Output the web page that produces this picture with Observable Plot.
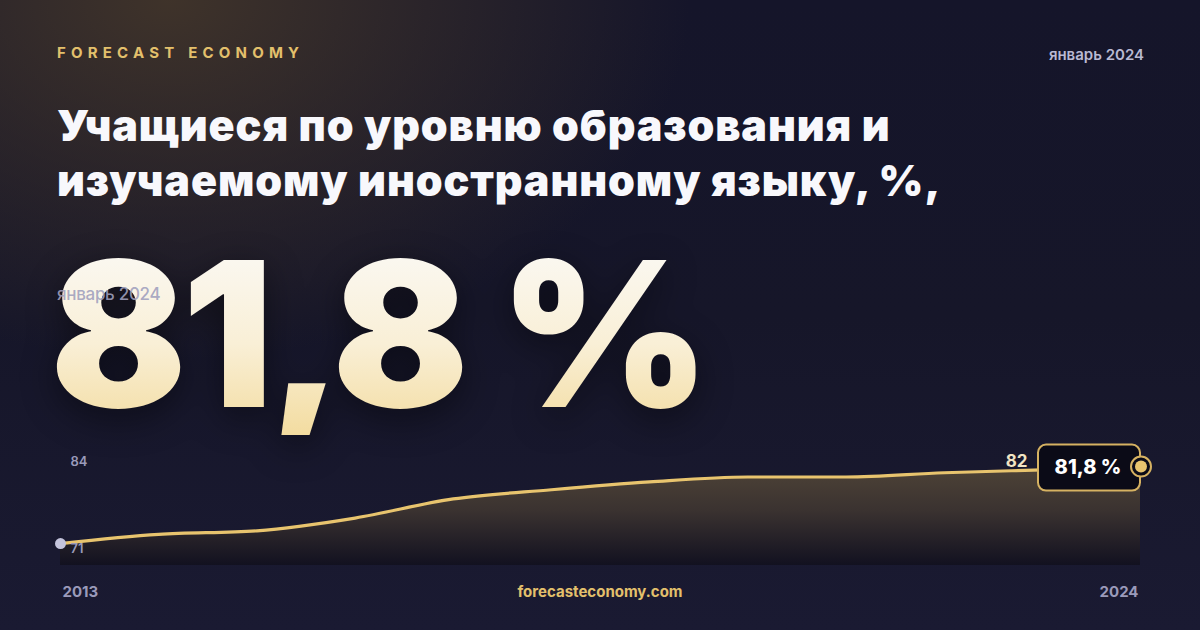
<!DOCTYPE html>
<html><head><meta charset="utf-8">
<script src="https://cdn.jsdelivr.net/npm/d3@7"></script>
<script src="https://cdn.jsdelivr.net/npm/@observablehq/plot@0.6"></script>
<style>
html,body{margin:0;padding:0;}
body{width:1200px;height:630px;overflow:hidden;font-family:Inter,"Noto Sans",sans-serif;}
#card{position:relative;width:1200px;height:630px;overflow:hidden;
 background:
  radial-gradient(ellipse 520px 360px at 170px 0px, rgba(70,56,42,0.85), rgba(70,56,42,0) 100%),
  linear-gradient(180deg,#15152a 0%,#161629 50%,#1a1a32 100%);}
.brand{position:absolute;left:57px;top:43px;font-size:15px;font-weight:700;letter-spacing:5.2px;color:#e3c06c;}
.date{position:absolute;right:56px;top:45px;font-size:15px;font-weight:600;color:#b9b9d2;}
.title{position:absolute;left:57px;top:98px;font-size:43px;line-height:55px;font-weight:900;color:#f8f8fc;letter-spacing:0.9px;}
.big{position:absolute;left:50px;top:233px;font-size:202px;line-height:202px;height:202px;font-weight:900;letter-spacing:-5px;
 background:linear-gradient(180deg,#fbfaf7 0%,#f9efd6 55%,#f3dca0 100%);-webkit-background-clip:text;background-clip:text;color:transparent;
 filter:drop-shadow(0 10px 18px rgba(0,0,0,0.45));}
.sub{position:absolute;left:57px;top:284px;font-size:17px;font-weight:500;color:rgba(160,160,190,0.9);letter-spacing:-0.3px;}
.site{position:absolute;left:0;width:1200px;top:582px;text-align:center;font-size:15px;font-weight:700;color:#e3c06c;}
#chart{position:absolute;left:0;top:430px;}
</style></head>
<body>
<div id="card">
 <div class="brand">FORECAST ECONOMY</div>
 <div class="date">январь 2024</div>
 <div class="title">Учащиеся по уровню образования и<br>изучаемому иностранному языку, %,</div>
 <div class="big">81,8 %</div>
 <div class="sub">январь 2024</div>
 <div id="chart"></div>
 <div class="site">forecasteconomy.com</div>
</div>
<script>
const years  = [2013,2014,2015,2016,2017,2018,2019,2020,2021,2022,2023,2024];
const values = [71.0,72.3,72.8,74.6,77.3,78.6,79.7,80.4,80.4,81.0,81.4,81.8];
const yTickLabels = [84, 71];
const xTickLabels = [2013, 2024];
const lastLabel = "81,8 %";
const roundedLabel = "82";

const data = years.map((y,i)=>({year:y, value:values[i]}));
const last = data[data.length-1];
const first = data[0];
const yMin = 67.9, yMax = 84;

const plot = Plot.plot({
  width:1200, height:180,
  marginLeft:60, marginRight:60, marginTop:21, marginBottom:45,
  x:{domain:[2013,2024], axis:null},
  y:{domain:[yMin,yMax], axis:null},
  style:{background:"transparent", fontFamily:"Inter, sans-serif", overflow:"visible"},
  marks:[
    Plot.areaY(data,{x:"year", y1:yMin, y2:"value", fill:"url(#areaGrad)", curve:"monotone-x"}),
    Plot.lineY(data,{x:"year", y:"value", stroke:"#e8c46e", strokeWidth:3.2, curve:"monotone-x"}),
    Plot.dot([first],{x:"year", y:"value", r:5.5, fill:"#c4c4dc"}),
    Plot.text([{v:yTickLabels[0]}],{x:()=>2013, y:"v", text:d=>String(d.v), dx:10, dy:10, textAnchor:"start", fill:"#9a9aba", fontSize:13, fontWeight:600}),
    Plot.text([{v:yTickLabels[1]}],{x:()=>2013, y:"v", text:d=>String(d.v), dx:10, dy:5, textAnchor:"start", fill:"#9a9aba", fontSize:13, fontWeight:600}),
    Plot.text([{yr:xTickLabels[0]}],{x:"yr", y:()=>yMin, text:d=>String(d.yr), dx:2, dy:27, textAnchor:"start", fill:"#9a9aba", fontSize:15, fontWeight:700}),
    Plot.text([{yr:xTickLabels[1]}],{x:"yr", y:()=>yMin, text:d=>String(d.yr), dx:-2, dy:27, textAnchor:"end", fill:"#9a9aba", fontSize:15, fontWeight:700}),
    Plot.text([last],{x:"year", y:"value", text:()=>roundedLabel, dx:-113, dy:-6, textAnchor:"end", fill:"#f1e4c4", fontSize:17, fontWeight:700})
  ]
});

const svg = d3.select(plot);
const defs = svg.insert("defs",":first-child");
const g = defs.append("linearGradient").attr("id","areaGrad").attr("x1",0).attr("y1",0).attr("x2",0).attr("y2",1);
g.append("stop").attr("offset","0%").attr("stop-color","#4e4337");
g.append("stop").attr("offset","45%").attr("stop-color","#3a3230");
g.append("stop").attr("offset","100%").attr("stop-color","#121120");

const sx = plot.scale("x"), sy = plot.scale("y");
const ex = sx.apply(last.year), ey = sy.apply(last.value);
const callout = svg.append("g");
callout.append("rect").attr("x",ex-102).attr("y",ey-22).attr("width",102).attr("height",46).attr("rx",8)
  .attr("fill","#0b0b17").attr("stroke","#d6b262").attr("stroke-width",2);
callout.append("text").attr("x",ex-52).attr("y",ey+7).attr("text-anchor","middle")
  .attr("fill","#ffffff").attr("font-size",20).attr("font-weight",800).attr("font-family","Inter, sans-serif").text(lastLabel);
callout.append("circle").attr("cx",ex+1).attr("cy",ey).attr("r",10).attr("fill","#0b0b17").attr("stroke","#d6b262").attr("stroke-width",2);
callout.append("circle").attr("cx",ex+1).attr("cy",ey).attr("r",6).attr("fill","#e8c46e");

document.getElementById("chart").appendChild(plot);
</script>
</body></html>
